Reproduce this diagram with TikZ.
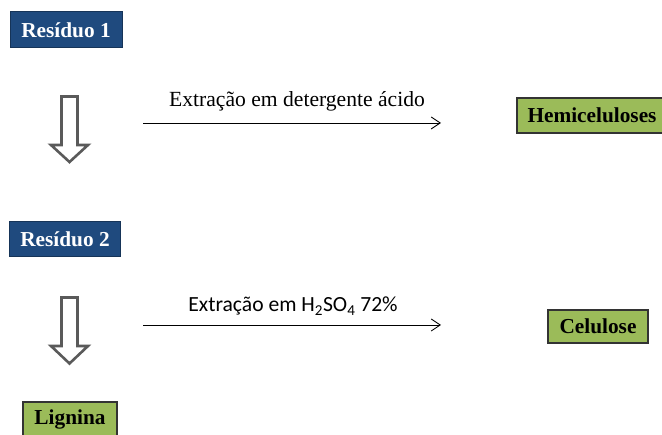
\documentclass[tikz,border=0pt]{standalone}
\usepackage{fontspec}
\setmainfont{Liberation Serif}
\newfontfamily\carlfont{Carlito}
\usetikzlibrary{arrows.meta}
\definecolor{boxblue}{HTML}{1F4A7E}
\definecolor{boxgreen}{HTML}{9BBB59}
\definecolor{arrgray}{HTML}{5A5A5A}
\tikzset{
  bluebox/.style={draw=boxblue!70!black, line width=1pt, fill=boxblue, text=white,
    font=\fontsize{21.3}{24}\selectfont\bfseries, inner sep=0pt},
  greenbox/.style={draw=black!80, line width=1.2pt, fill=boxgreen, text=black,
    font=\fontsize{21.3}{24}\selectfont\bfseries, inner sep=0pt},
  flowline/.style={line width=0.9pt, -{Straight Barb[length=9pt,width=12pt,line width=0.9pt]}},
  hollow/.style={draw=arrgray, line width=2.6pt, fill=white, line join=miter},
  lbl/.style={font=\fontsize{21.6}{24}\selectfont, inner sep=0pt}
}
\begin{document}
\begin{tikzpicture}[x=1pt,y=-1pt]
\useasboundingbox (0,0) rectangle (662,435);
\fill[white] (0,0) rectangle (662,435);

\node[bluebox, minimum width=112pt, minimum height=36pt] (r1) at (66,30) {Resíduo 1};
\node[bluebox, minimum width=111pt, minimum height=35pt] (r2) at (65,239.5) {Resíduo 2};
\node[greenbox, minimum width=150pt, minimum height=35pt] (hemi) at (592,115.5) {Hemiceluloses};
\node[greenbox, minimum width=100pt, minimum height=33pt] (cel) at (598,326.5) {Celulose};
\node[greenbox, minimum width=94pt, minimum height=35pt] (lig) at (70,419.5) {Lignina};

% hollow down arrows
\draw[hollow] (61.5,96.5) -- (77.5,96.5) -- (77.5,145) -- (88,145) -- (69.5,162) -- (51,145) -- (61.5,145) -- cycle;
\draw[hollow] (61.5,297.5) -- (77.5,297.5) -- (77.5,346) -- (88,346) -- (69.5,363.5) -- (51,346) -- (61.5,346) -- cycle;

% horizontal connectors
\coordinate (a1s) at (143,123);
\coordinate (a1e) at (441,123);
\coordinate (a2s) at (143,325);
\coordinate (a2e) at (441,325);
\draw[flowline] (a1s) -- (a1e);
\draw[flowline] (a2s) -- (a2e);

\node[lbl, anchor=base] (l1) at (297,107) {Extração em detergente ácido};
\node[lbl, anchor=base] (l2) at (293,312) {\carlfont Extração em H\textsubscript{2}SO\textsubscript{4} 72\%};
\end{tikzpicture}
\end{document}
